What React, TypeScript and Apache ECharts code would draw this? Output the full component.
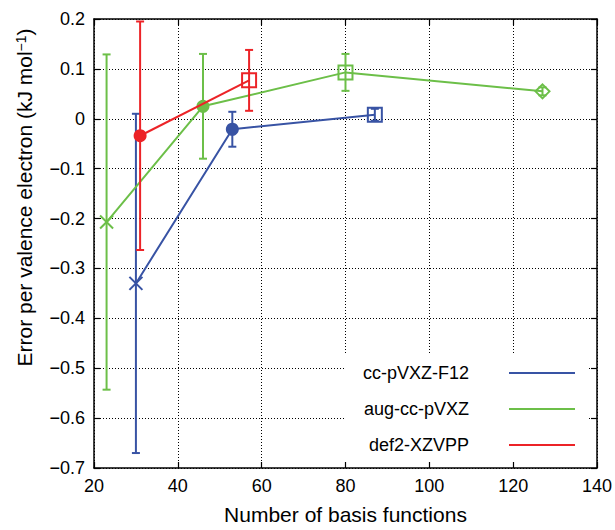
import React, { useEffect, useRef } from "react";
import * as echarts from "echarts";

// ---- data ----
const seriesNames = ["cc-pVXZ-F12", "aug-cc-pVXZ", "def2-XZVPP"];

const f12X = [30, 53, 87];
const f12Y = [-0.33, -0.021, 0.008];
const f12Err = [0.34, 0.035, 0.012];
const f12Markers = ["cross", "circle", "square"];

const augX = [23, 46, 80, 127];
const augY = [-0.207, 0.025, 0.093, 0.055];
const augErr = [0.336, 0.105, 0.037, 0.008];
const augMarkers = ["cross", "circle", "square", "diamond"];

const defX = [31, 57];
const defY = [-0.034, 0.077];
const defErr = [0.229, 0.061];
const defMarkers = ["circle", "square"];

const xTickLabels = ["20", "40", "60", "80", "100", "120", "140"];
const yTickLabels = ["\u22120.7", "\u22120.6", "\u22120.5", "\u22120.4", "\u22120.3", "\u22120.2", "\u22120.1", "0", "0.1", "0.2"];

const COLORS = ["#3853a4", "#6cbf48", "#ec2327"];
const FONT = "'Liberation Sans', Arial, Helvetica, sans-serif";

function makeRender(markers: string[], color: string) {
  return (params: any, api: any) => {
    const x = api.value(0);
    const y = api.value(1);
    const e = api.value(2);
    const c = api.coord([x, y]);
    const cx = c[0];
    const cy = c[1];
    const yt = api.coord([x, y + e])[1];
    const yb = api.coord([x, y - e])[1];
    const cap = 4;
    const ls = { stroke: color, lineWidth: 2, fill: null };
    const children: any[] = [
      { type: "line", shape: { x1: cx, y1: yt, x2: cx, y2: yb }, style: ls },
      { type: "line", shape: { x1: cx - cap, y1: yt, x2: cx + cap, y2: yt }, style: ls },
      { type: "line", shape: { x1: cx - cap, y1: yb, x2: cx + cap, y2: yb }, style: ls },
    ];
    const m = markers[params.dataIndex];
    if (m === "circle") {
      children.push({ type: "circle", shape: { cx, cy, r: 6.5 }, style: { fill: color, stroke: null } });
    } else if (m === "square") {
      children.push({
        type: "rect",
        shape: { x: cx - 7, y: cy - 7, width: 14, height: 14 },
        style: { fill: null, stroke: color, lineWidth: 2 },
      });
    } else if (m === "diamond") {
      children.push({
        type: "polygon",
        shape: { points: [[cx, cy - 7], [cx + 7, cy], [cx, cy + 7], [cx - 7, cy]] },
        style: { fill: null, stroke: color, lineWidth: 2 },
      });
    } else {
      const h = 6.5;
      children.push({ type: "line", shape: { x1: cx - h, y1: cy - h, x2: cx + h, y2: cy + h }, style: ls });
      children.push({ type: "line", shape: { x1: cx - h, y1: cy + h, x2: cx + h, y2: cy - h }, style: ls });
    }
    return { type: "group", children };
  };
}

const groups = [
  { x: f12X, y: f12Y, err: f12Err, markers: f12Markers },
  { x: augX, y: augY, err: augErr, markers: augMarkers },
  { x: defX, y: defY, err: defErr, markers: defMarkers },
];

function xLabel(v: number) {
  const i = Math.round((v - 20) / 20);
  return xTickLabels[i] ?? "";
}
function yLabel(v: number) {
  const i = Math.round((v + 0.7) / 0.1);
  return yTickLabels[i] ?? "";
}

export default function App() {
  const ref = useRef<HTMLDivElement>(null);
  useEffect(() => {
    if (!ref.current) return;
    const chart = echarts.init(ref.current, undefined, { renderer: "svg" });

    const axisLine = { show: true, onZero: false, lineStyle: { color: "#000", width: 1.5 } };
    const tick = { show: true, inside: true, length: 6, lineStyle: { color: "#000", width: 1.2 } };
    const split = { show: true, lineStyle: { color: "#000", width: 1, type: [1, 2] as any } };

    const series: any[] = [];
    groups.forEach((g, k) => {
      series.push({
        type: "line",
        name: seriesNames[k],
        data: g.x.map((x, i) => [x, g.y[i]]),
        showSymbol: false,
        symbol: "none",
        lineStyle: { color: COLORS[k], width: 2 },
        itemStyle: { color: COLORS[k] },
        z: 3 + k * 2,
        silent: true,
      });
      series.push({
        type: "custom",
        name: seriesNames[k] + " err",
        data: g.x.map((x, i) => [x, g.y[i], g.err[i]]),
        encode: { x: 0, y: 1 },
        renderItem: makeRender(g.markers, COLORS[k]),
        z: 4 + k * 2,
        silent: true,
      });
    });

    const legendY = [373, 409, 445];
    const graphicEls: any[] = [
      {
        type: "rect",
        shape: { x: 345, y: 353, width: 244, height: 114 },
        style: { fill: "#fff", stroke: null },
        z: 1,
      },
    ];
    seriesNames.forEach((n, k) => {
      graphicEls.push({
        type: "text",
        x: 469,
        y: legendY[k],
        z: 2,
        style: {
          text: n,
          fill: "#000",
          font: `18px ${FONT}`,
          textAlign: "right",
          textVerticalAlign: "middle",
        },
      });
      graphicEls.push({
        type: "line",
        z: 2,
        shape: { x1: 509, y1: legendY[k], x2: 575, y2: legendY[k] },
        style: { stroke: COLORS[k], lineWidth: 2 },
      });
    });

    chart.setOption({
      animation: false,
      backgroundColor: "#fff",
      grid: { left: 94, right: 16, top: 19, bottom: 62, containLabel: false },
      xAxis: [
        {
          type: "value",
          position: "bottom",
          min: 20,
          max: 140,
          interval: 20,
          axisLine,
          axisTick: tick,
          splitLine: { show: false },
          axisLabel: { color: "#000", fontSize: 18, fontFamily: FONT, margin: 9, formatter: xLabel },
          name: "Number of basis functions",
          nameLocation: "middle",
          nameGap: 36,
          nameTextStyle: { color: "#000", fontSize: 21, fontFamily: FONT },
          z: 5,
        },
        {
          type: "value",
          position: "top",
          min: 20,
          max: 140,
          interval: 20,
          axisLine,
          axisTick: tick,
          splitLine: split,
          axisLabel: { show: false },
          z: 0,
        },
      ],
      yAxis: [
        {
          type: "value",
          position: "left",
          min: -0.7,
          max: 0.2,
          interval: 0.1,
          axisLine,
          axisTick: tick,
          splitLine: { show: false },
          axisLabel: { color: "#000", fontSize: 18, fontFamily: FONT, margin: 9, formatter: yLabel },
          name: "Error per valence electron (kJ mol{sup|\u22121})",
          nameLocation: "middle",
          nameGap: 59,
          nameTextStyle: {
            color: "#000",
            fontSize: 21,
            fontFamily: FONT,
            padding: [0, 0, 0, 92],
            rich: {
              sup: { fontSize: 14, fontFamily: FONT, color: "#000", verticalAlign: "top", lineHeight: 13 },
            },
          },
          z: 5,
        },
        {
          type: "value",
          position: "right",
          min: -0.7,
          max: 0.2,
          interval: 0.1,
          axisLine,
          axisTick: tick,
          splitLine: split,
          axisLabel: { show: false },
          z: 0,
        },
      ],
      graphic: { elements: graphicEls },
      series,
    });
    return () => chart.dispose();
  }, []);
  return (
    <div
      ref={ref}
      style={{ position: "absolute", left: 0, top: 0, width: 615, height: 530 }}
    />
  );
}
